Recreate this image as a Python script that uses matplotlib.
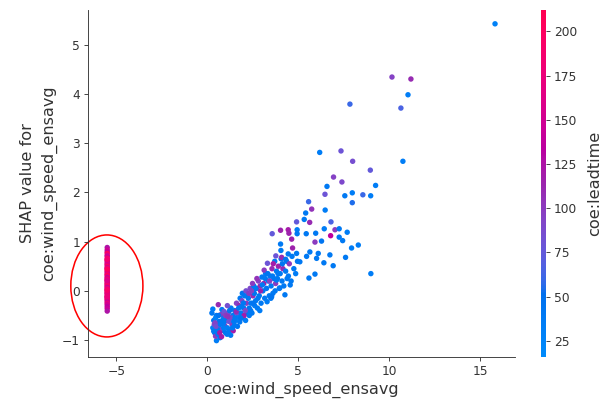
import numpy as np
import matplotlib
matplotlib.use("Agg")
import matplotlib.pyplot as plt
from matplotlib.colors import LinearSegmentedColormap
from matplotlib.patches import Ellipse

# rows without a wind speed value, drawn at the far left
na_x = -5.5
na_y = [0.88, 0.83, 0.79, 0.76, 0.72, 0.70, 0.66, 0.63, 0.61, 0.58, 0.55, 0.53,
        0.50, 0.47, 0.46, 0.43, 0.40, 0.38, 0.35, 0.33, 0.31, 0.28, 0.26, 0.24,
        0.21, 0.20, 0.17, 0.15, 0.13, 0.11, 0.09, 0.07, 0.05, 0.03, 0.01, -0.01,
        -0.03, -0.05, -0.06, -0.09, -0.11, -0.13, -0.15, -0.17, -0.19, -0.22,
        -0.25, -0.28, -0.32, -0.36, -0.41, 0.64, 0.44, 0.22, 0.02, -0.12]
na_lead = [125, 150, 135, 200, 160, 145, 190, 170, 205, 140, 185, 155,
           200, 130, 175, 210, 150, 195, 140, 180, 205, 160, 135, 200,
           170, 190, 145, 210, 155, 180, 200, 140, 165, 195, 150, 205,
           175, 135, 190, 160, 200, 145, 180, 155, 195, 140, 170, 150,
           135, 145, 125, 185, 200, 160, 190, 175]

wind_x = [
    # dense band
    0.25, 0.30, 0.35, 0.30, 0.40, 0.50, 0.45, 0.55, 0.60, 0.50, 0.38, 0.58, 0.45,
    0.70, 0.78, 0.65, 0.75, 0.85, 0.90, 0.95, 0.80, 0.70, 0.88, 1.00, 0.92,
    1.05, 1.10, 1.15, 1.20, 1.25, 1.30, 1.35, 1.10, 1.40, 1.42, 1.28, 1.18,
    1.50, 1.55, 1.60, 1.65, 1.70, 1.78, 1.75, 1.50, 1.62, 1.80, 1.68,
    1.85, 1.90, 1.95, 2.00, 2.05, 2.10, 2.15, 2.20, 1.92, 2.12, 2.02,
    2.25, 2.30, 2.35, 2.40, 2.45, 2.50, 2.55, 2.60, 2.30, 2.48, 2.58,
    2.65, 2.70, 2.75, 2.80, 2.85, 2.90, 2.95, 3.00, 2.72, 2.88,
    3.05, 3.10, 3.15, 3.20, 3.25, 3.30, 3.35, 3.40, 3.12, 3.28,
    3.45, 3.50, 3.55, 3.60, 3.65, 3.70, 3.75, 3.80, 3.62,
    3.85, 3.90, 3.95, 4.00, 4.05, 4.10, 4.15, 4.20,
    4.30, 4.35, 4.45, 4.50, 4.60, 4.65, 4.75, 4.85, 4.95, 4.55,
    3.49, 3.80, 4.26, 3.53, 3.98, 5.58, 5.91, 8.98,
    0.35, 0.42, 0.55, 0.62, 0.68, 0.82, 0.90, 1.00, 1.08, 1.22,
    1.32, 1.45, 1.52, 1.58, 1.72, 1.83, 1.98, 2.08, 2.18, 2.28,
    2.38, 2.52, 2.62, 2.78, 2.92, 3.02, 3.18, 3.32, 3.42, 3.58,
    3.72, 3.88, 4.12, 4.38, 0.48, 0.72, 1.12, 1.38, 1.88, 2.42,
    # middle spread
    5.08, 4.90, 4.44, 3.76, 4.08, 4.30, 5.45, 5.63, 6.09, 6.00, 6.40, 6.73,
    7.59, 6.91, 7.92, 8.29, 4.02, 4.68, 4.04, 5.91, 6.27, 4.63, 7.43, 7.24,
    3.56, 4.02, 4.44, 4.48, 4.93, 4.93, 5.43, 5.95, 6.42, 7.01, 6.77, 7.24,
    7.68, 4.90, 5.32, 5.62, 6.79, 5.40, 5.56, 5.73, 6.47, 7.96, 6.46, 7.55,
    7.96, 8.54, 8.97, 6.57, 9.24, 6.93, 7.39, 8.95,
    # sparse upper tail
    6.17, 7.34, 7.98, 10.74, 7.83, 10.63, 11.02, 10.14, 11.18, 15.80,
]
shap_y = [
    -0.45, -0.37, -0.60, -0.75, -0.85, -1.01, -0.92, -0.70, -0.28, -0.50, -0.68, -0.88, -0.55,
    -0.95, -0.93, -0.62, -0.48, -0.80, -0.55, -0.70, -0.38, -0.78, -0.66, -0.85, -0.42,
    -0.60, -0.75, -0.45, -0.82, -0.55, -0.35, -0.68, -0.30, -0.50, -0.81, -0.90, -0.62,
    -0.40, -0.60, -0.25, -0.72, -0.50, -0.63, -0.30, -0.70, -0.45, -0.15, -0.55,
    -0.45, -0.20, -0.55, -0.35, -0.10, -0.60, -0.25, -0.45, -0.05, 0.00, -0.50,
    -0.15, -0.35, 0.05, -0.25, -0.45, -0.10, 0.10, -0.30, -0.50, 0.15, -0.05,
    -0.20, 0.05, -0.35, 0.20, -0.10, 0.10, -0.25, 0.28, 0.25, -0.40,
    0.00, 0.15, -0.15, 0.35, 0.05, 0.56, 0.20, -0.10, 0.42, -0.22,
    0.30, 0.10, 0.45, -0.05, 0.25, 0.60, 0.15, 0.40, 0.55,
    0.25, 0.50, 0.05, 0.35, 0.65, 0.20, 0.45, 0.10,
    0.40, 0.60, 0.30, 0.55, 0.20, 0.70, 0.45, 0.35, 0.60, 0.12,
    -0.15, 0.22, -0.08, -0.12, 0.06, 0.26, 0.34, 0.35,
    -0.82, -0.65, -0.78, -0.50, -0.85, -0.60, -0.75, -0.50, -0.88, -0.40,
    -0.55, -0.62, -0.55, -0.42, -0.35, -0.55, -0.25, -0.40, -0.10, -0.05,
    -0.40, -0.25, 0.05, -0.15, 0.00, 0.12, 0.25, 0.35, 0.20, 0.30,
    0.00, 0.35, 0.55, 0.25, -0.72, -0.68, -0.52, -0.75, -0.32, 0.00,
    0.59, 0.76, 0.75, 0.71, 0.68, 0.64, 0.70, 0.79, 0.76, 0.66, 0.57, 0.73,
    0.68, 0.51, 0.87, 0.93, 0.95, 0.87, 0.82, 0.99, 1.01, 1.05, 1.02, 1.09,
    1.16, 1.23, 1.24, 1.17, 1.24, 1.16, 1.16, 1.17, 1.26, 1.24, 1.12, 1.26,
    1.19, 1.40, 1.45, 1.39, 1.40, 1.58, 1.81, 1.66, 1.64, 1.79, 1.96, 1.93,
    1.99, 1.95, 1.93, 2.12, 2.14, 2.31, 2.21, 2.45,
    2.81, 2.84, 2.63, 2.63, 3.79, 3.71, 3.98, 4.34, 4.30, 5.42,
]
leadtime = [
    40, 35, 45, 30, 50, 35, 100, 90, 110, 40, 85, 40, 30,
    40, 120, 45, 95, 40, 35, 100, 40, 85, 40, 45, 80,
    40, 35, 90, 40, 45, 40, 100, 85, 40, 120, 40, 80,
    40, 35, 95, 45, 40, 40, 110, 40, 85, 40, 30,
    40, 90, 45, 40, 40, 35, 100, 40, 45, 85, 120,
    40, 45, 90, 40, 40, 110, 40, 35, 40, 100, 45,
    40, 45, 40, 95, 40, 110, 40, 40, 105, 35,
    40, 115, 40, 40, 45, 80, 40, 40, 100, 35,
    40, 40, 110, 40, 45, 40, 100, 40, 120,
    40, 115, 40, 40, 45, 40, 110, 40,
    40, 45, 40, 100, 40, 40, 40, 35, 45, 40,
    40, 40, 40, 45, 40, 40, 40, 35,
    40, 95, 40, 45, 120, 40, 35, 100, 40, 45,
    90, 40, 40, 110, 40, 45, 40, 90, 40, 100,
    40, 45, 40, 40, 115, 40, 40, 45, 95, 40,
    40, 40, 45, 40, 85, 40, 105, 40, 40, 95,
    40, 40, 40, 80, 110, 45, 40, 40, 40, 40, 40, 40,
    40, 40, 35, 35, 40, 115, 40, 100, 45, 115, 40, 40,
    75, 115, 120, 115, 35, 40, 40, 40, 35, 100, 135, 40,
    35, 75, 40, 110, 65, 40, 60, 105, 35, 55, 80, 40,
    35, 60, 35, 40, 35, 95, 90, 75,
    35, 80, 85, 35, 60, 65, 35, 95, 110, 30,
]


def lab_to_rgb(L, a, b):
    fy = (L + 16.0) / 116.0
    fx = fy + a / 500.0
    fz = fy - b / 200.0

    def finv(t):
        return t ** 3 if t > 6 / 29 else 3 * (6 / 29) ** 2 * (t - 4 / 29)

    X, Y, Z = 0.95047 * finv(fx), finv(fy), 1.08883 * finv(fz)
    m = np.array([[3.2406, -1.5372, -0.4986],
                  [-0.9689, 1.8758, 0.0415],
                  [0.0557, -0.2040, 1.0570]])
    lin = m @ np.array([X, Y, Z])
    out = np.where(lin > 0.0031308, 1.055 * np.abs(lin) ** (1 / 2.4) - 0.055, 12.92 * lin)
    return np.clip(out, 0, 1)


# shap style red/blue colormap
blue_lch = [54.0, 70.0, 4.6588]
red_lch = [54.0, 90.0, 0.35470565 + 2 * np.pi]
n = 100
ls = list(np.linspace(blue_lch[0], 40.0, n // 2)) + list(np.linspace(40.0, red_lch[0], n // 2))
cs = np.linspace(blue_lch[1], red_lch[1], n)
hs = np.linspace(blue_lch[2], red_lch[2], n)
colors = [lab_to_rgb(l, c * np.cos(h), c * np.sin(h)) for l, c, h in zip(ls, cs, hs)]
red_blue = LinearSegmentedColormap.from_list("red_blue", colors)

axis_color = "#333333"
fig = plt.figure(figsize=(601 / 80, 401 / 80), dpi=80)
ax = fig.add_axes([0.146, 0.110, 0.711, 0.865])
cax = fig.add_axes([0.900, 0.110, 0.009, 0.865])

vmin, vmax = 16, 212
ax.scatter([na_x] * len(na_y), na_y, c=na_lead, cmap=red_blue, vmin=vmin, vmax=vmax,
           s=24, linewidth=0)
sc = ax.scatter(wind_x, shap_y, c=leadtime, cmap=red_blue, vmin=vmin, vmax=vmax,
                s=24, linewidth=0)

ax.add_patch(Ellipse((-5.52, 0.10), 3.96, 2.07, fill=False, edgecolor="red",
                     linewidth=1.4, clip_on=False))

ax.set_xlim(-6.57, 16.9)
ax.set_ylim(-1.34, 5.70)
ax.set_xticks([-5, 0, 5, 10, 15])
ax.set_yticks([-1, 0, 1, 2, 3, 4, 5])
ax.set_xlabel("coe:wind_speed_ensavg", fontsize=14.5, color=axis_color)
ax.set_ylabel("SHAP value for\ncoe:wind_speed_ensavg", fontsize=14.5, color=axis_color,
              linespacing=1.5)
ax.spines["top"].set_visible(False)
ax.spines["right"].set_visible(False)
ax.spines["left"].set_color(axis_color)
ax.spines["bottom"].set_color(axis_color)
ax.tick_params(labelsize=11, color=axis_color, labelcolor=axis_color)

cb = fig.colorbar(sc, cax=cax, ticks=[25, 50, 75, 100, 125, 150, 175, 200])
cb.outline.set_visible(False)
cb.set_label("coe:leadtime", fontsize=14.5, color=axis_color, labelpad=9)
cb.ax.tick_params(labelsize=11, color=axis_color, labelcolor=axis_color)

fig.savefig("out.png", dpi=80)
plt.close(fig)
